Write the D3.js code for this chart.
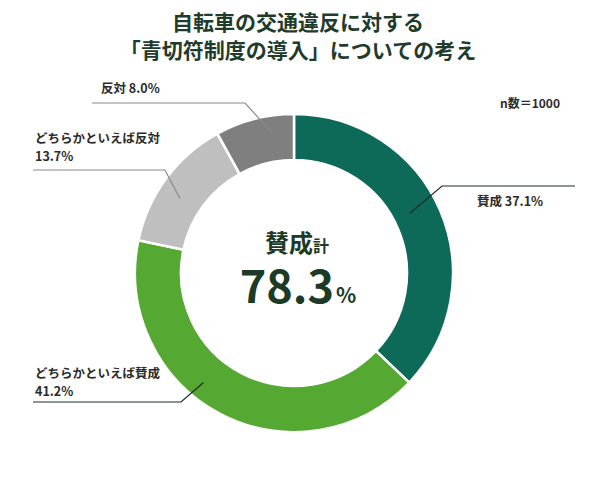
<!DOCTYPE html>
<html lang="ja">
<head>
<meta charset="utf-8">
<script src="https://cdn.jsdelivr.net/npm/d3@7"></script>
<style>
  html, body { margin: 0; padding: 0; background: #fff; }
  svg { display: block; font-family: "Noto Sans CJK JP", "Noto Sans", sans-serif; }
</style>
</head>
<body>
<div id="grafico"></div>
<script>
// データ
const categorias = ["賛成", "どちらかといえば賛成", "どちらかといえば反対", "反対"];
const valores = [37.1, 41.2, 13.7, 8.0];
const colores = ["#0e6a58", "#55a832", "#bfbfbf", "#7f7f7f"];
const titulo = ["自転車の交通違反に対する", "「青切符制度の導入」についての考え"];
const nota = "n数＝1000";
const centroTitulo = "賛成計";
const centroValor = 78.3;

// Configuración
const width = 599, height = 487;
const cx = 294, cy = 273;
const rOuter = 159, rInner = 113;

const svg = d3.select("#grafico")
  .append("svg")
  .attr("width", width)
  .attr("height", height);

// Título
svg.append("text")
  .attr("x", 298)
  .attr("text-anchor", "middle")
  .attr("font-size", 21)
  .attr("font-weight", 700)
  .attr("fill", "#1f3b2b")
  .selectAll("tspan")
  .data(titulo)
  .enter()
  .append("tspan")
  .attr("x", 298)
  .attr("y", (d, i) => 30 + i * 28)
  .text(d => d);

svg.append("text")
  .attr("x", 500)
  .attr("y", 108)
  .attr("font-size", 12)
  .attr("font-weight", 700)
  .attr("fill", "#2b2b2b")
  .text(nota);

const datos = categorias.map((c, i) => ({ nombre: c, valor: valores[i], color: colores[i] }));

const pie = d3.pie()
  .sort(null)
  .value(d => d.valor);

const arcos = pie(datos);

const arc = d3.arc()
  .innerRadius(rInner)
  .outerRadius(rOuter);

const g = svg.append("g")
  .attr("transform", `translate(${cx},${cy})`);

g.selectAll("path")
  .data(arcos)
  .enter()
  .append("path")
  .attr("d", arc)
  .attr("fill", d => d.data.color)
  .attr("stroke", "#fff")
  .attr("stroke-width", 2.5);

// Etiquetas (posición dentro del sector, codo de la línea, texto)
const etiquetas = [
  { t: 0.47, r: 130, codo: [442, 186], fin: 575, tx: 477, ty: [206], anchor: "start", linea: "#1f2a24" },
  { t: 0.58, r: 142, codo: [181, 402], fin: 33, tx: 35, ty: [378, 396], anchor: "start", linea: "#1f2a24" },
  { t: 0.43, r: 136, codo: [165, 170], fin: 33, tx: 35, ty: [143, 161], anchor: "start", linea: "#8a8a8a" },
  { t: 0.69, r: 142, codo: [245, 103], fin: 92, tx: 101, ty: [93], anchor: "start", linea: "#8a8a8a" }
];

arcos.forEach((a, i) => {
  const e = etiquetas[i];
  const ang = a.startAngle + (a.endAngle - a.startAngle) * e.t;
  const px = cx + e.r * Math.sin(ang);
  const py = cy - e.r * Math.cos(ang);

  svg.append("polyline")
    .attr("points", `${px},${py} ${e.codo[0]},${e.codo[1]} ${e.fin},${e.codo[1]}`)
    .attr("fill", "none")
    .attr("stroke", e.linea)
    .attr("stroke-width", 1.2);

  const lineas = e.ty.length === 1
    ? [`${a.data.nombre} ${a.data.valor.toFixed(1)}%`]
    : [a.data.nombre, `${a.data.valor.toFixed(1)}%`];

  const txt = svg.append("text")
    .attr("font-size", 12.5)
    .attr("font-weight", 700)
    .attr("fill", "#2b2b2b")
    .attr("text-anchor", e.anchor);

  lineas.forEach((l, j) => {
    txt.append("tspan")
      .attr("x", e.tx)
      .attr("y", e.ty[j])
      .text(l);
  });
});

// Texto central
const centro = svg.append("text")
  .attr("x", cx + 3)
  .attr("y", 252)
  .attr("text-anchor", "middle")
  .attr("font-weight", 700)
  .attr("fill", "#1c3a26");
centro.append("tspan").attr("font-size", 24).text(centroTitulo.slice(0, 2));
centro.append("tspan").attr("font-size", 16).text(centroTitulo.slice(2));

const valorTxt = svg.append("text")
  .attr("x", cx + 4)
  .attr("y", 303)
  .attr("text-anchor", "middle")
  .attr("font-weight", 700)
  .attr("fill", "#1c3a26");
valorTxt.append("tspan").attr("font-size", 45).text(centroValor.toFixed(1));
valorTxt.append("tspan").attr("font-size", 21).attr("dx", 2).text("%");
</script>
</body>
</html>
